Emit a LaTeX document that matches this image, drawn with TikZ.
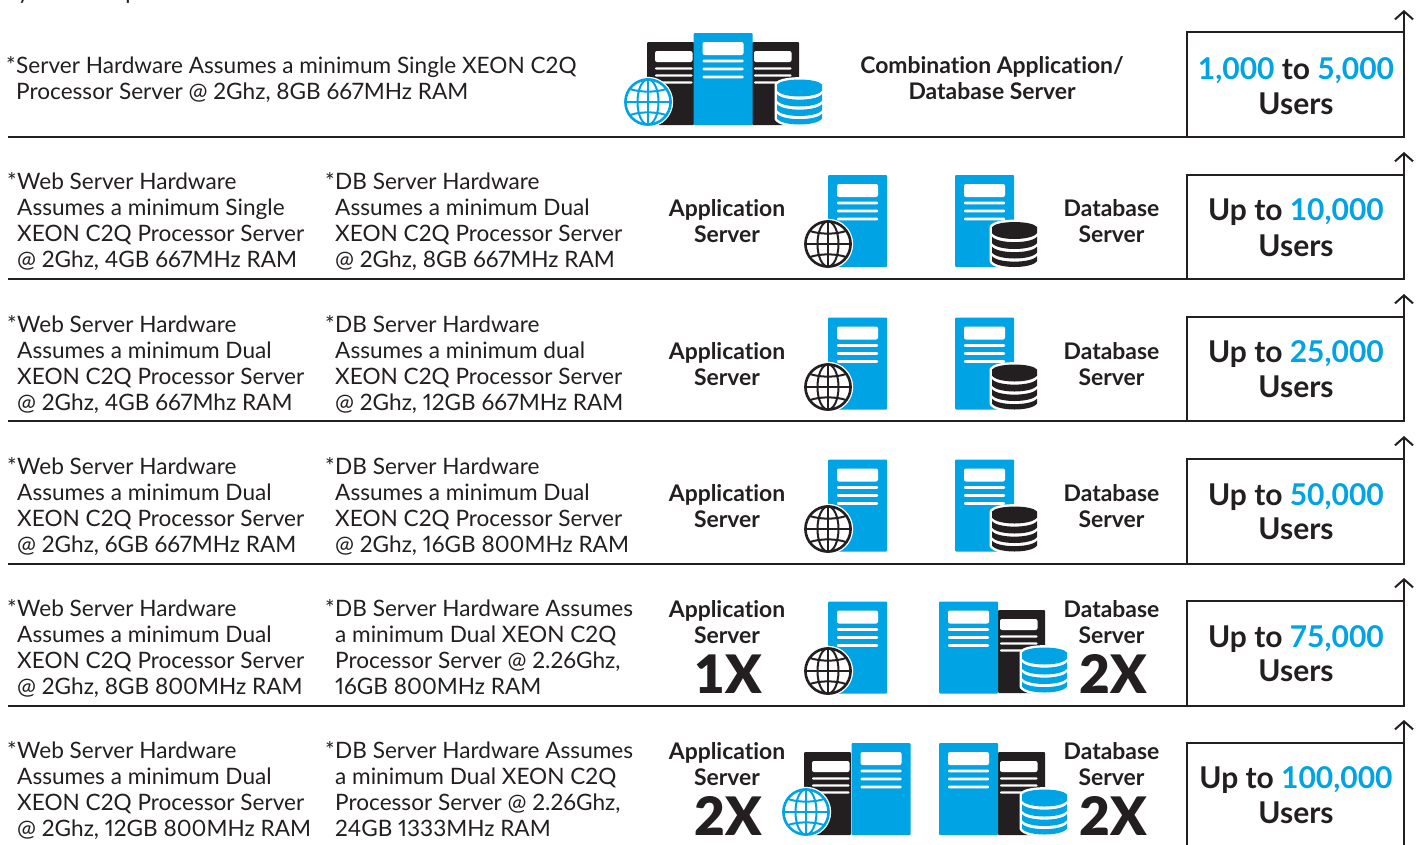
\documentclass[tikz,border=0pt]{standalone}
\usepackage{fontspec}
\setmainfont{Lato}[Ligatures=NoCommon,Numbers=Proportional]
\newfontface\latoheavy{Lato Black}
\newfontface\usersfont{Lato Bold}[Ligatures=NoCommon]
\definecolor{ibm}{HTML}{00A4E4}
\definecolor{ink}{HTML}{231F20}
\usetikzlibrary{arrows.meta}
\tikzset{
  x=1pt,y=-1pt,
  body/.style={anchor=north west,inner sep=0pt,align=left,text=ink,font=\fontsize{22.6}{26}\selectfont},
  role/.style={anchor=north,inner sep=0pt,align=center,text=ink,font=\bfseries\fontsize{22.9}{26}\selectfont},
  mult/.style={anchor=base,inner sep=0pt,text=ink,font=\latoheavy\fontsize{53}{53}\selectfont},
  rule/.style={draw=ink,line width=2pt},
  usersbox/.style={draw=ink,line width=2pt,rectangle,inner sep=0pt,outer sep=0pt,minimum width=217pt,align=center,text=ink},
  userstext/.style={anchor=base,inner sep=0pt,text=ink,font=\usersfont\fontsize{30}{35}\selectfont},
  up/.style={draw=ink,line width=2pt,-{Straight Barb[length=8pt,width=18pt,line width=2pt]}},
}
\newcommand{\towerbody}[2]{% x y
  \begin{scope}[shift={(#1,#2)}]
    \fill[ibm,rounded corners=1pt] (0,0) rectangle (59,92);
    \fill[white,rounded corners=2pt] (9,9) rectangle (50,22);
    \foreach \yy in {28,36,44} \fill[white,rounded corners=1pt] (9,\yy-1.3) rectangle (50,\yy+1.3);
  \end{scope}}
\newcommand{\blackserver}[3]{% x y(top) window x-offset
  \begin{scope}[shift={(#1,#2)}]
    \fill[ink,rounded corners=1pt] (0,0) rectangle (47,83);
    \fill[white,rounded corners=2pt] (#3,9) rectangle (#3+37.5,20);
    \foreach \yy in {26.5,33.5,40.5} \fill[white,rounded corners=1pt] (#3,\yy-1.2) rectangle (#3+37.5,\yy+1.2);
  \end{scope}}
\newcommand{\globeicon}[3]{% cx cy colour
  \begin{scope}[shift={(#1,#2)}]
    \fill[white] (0,0) circle (25.2);
    \draw[#3,line width=2.6pt] (0,0) circle (22.6);
    \draw[#3,line width=2pt] (0,0) ellipse (10.5 and 22.6);
    \draw[#3,line width=2pt] (0,-22.6) -- (0,22.6);
    \draw[#3,line width=2pt] (-22.6,0) -- (22.6,0);
    \draw[#3,line width=2pt] (-18,-13) .. controls (-8,-9.5) and (8,-9.5) .. (18,-13);
    \draw[#3,line width=2pt] (-18,13) .. controls (-8,9.5) and (8,9.5) .. (18,13);
  \end{scope}}
\newcommand{\dbicon}[3]{% left top colour
  \begin{scope}[shift={(#1,#2)}]
    \filldraw[white,line width=5pt,line join=round] (0,5) .. controls (5,-1.5) and (40,-1.5) .. (45,5) -- (45,39) .. controls (40,47) and (5,47) .. (0,39) -- cycle;
    \fill[#3] (0,5) .. controls (5,-1.6) and (40,-1.6) .. (45,5) -- (45,11) .. controls (40,19) and (5,19) .. (0,11) -- cycle;
    \fill[#3] (0,14.5) .. controls (5,22) and (40,22) .. (45,14.5) -- (45,21) .. controls (40,29) and (5,29) .. (0,21) -- cycle;
    \fill[#3] (0,24.5) .. controls (5,32) and (40,32) .. (45,24.5) -- (45,30.5) .. controls (40,38.5) and (5,38.5) .. (0,30.5) -- cycle;
    \fill[#3] (0,34) .. controls (5,41.5) and (40,41.5) .. (45,34) -- (45,39) .. controls (40,47) and (5,47) .. (0,39) -- cycle;
  \end{scope}}
\newcommand{\usersrow}[7]{% name top bottom arrowtip line1 line2 label
  \node[usersbox,anchor=north west,minimum height=#3pt-#2pt] (#1) at (1187,#2) {};
  \coordinate (#1tip) at (1404,#4);
  \coordinate (#1start) at (8,#3);
  \draw[up] (#1.north east) -- (#1tip);
  \draw[rule] (#1start) -- (#1.south west);
  \node[userstext] (#1a) at (1296,#5) {#7};
  \node[userstext] (#1b) at (1296,#6) {Users};
}
\newcommand{\bl}[1]{\textcolor{ibm}{#1}}
\newcommand{\starry}{\llap{*\hspace{0.5pt}}}
\begin{document}
\begin{tikzpicture}
\useasboundingbox (0,0) rectangle (1421,844);
\clip (0,0) rectangle (1421,844);
\fill[white] (0,0) rectangle (1421,844);
\node[body] (intro) at (8,-15.5) {system components};

% row 1
\usersrow{ua}{32}{137}{10}{79}{114}{\bl{1,000} to \bl{5,000}}
\node[body] (t1) at (16,56) {\starry Server Hardware Assumes a minimum Single XEON C2Q\\Processor Server @ 2Ghz, 8GB 667MHz RAM};
\blackserver{647}{42}{8}
\blackserver{752}{42}{2}
\towerbody{693.5}{33}
\globeicon{648}{102}{ibm}
\dbicon{777}{79.5}{ibm}
\node[role] (c1) at (992,56.5) {Combination Application/\\Database Server};

% row 2
\usersrow{ub}{175}{279}{152}{220}{256}{Up to \bl{10,000}}
\node[body] (w2) at (17,172) {\starry Web Server Hardware\\Assumes a minimum Single\\XEON C2Q Processor Server\\@ 2Ghz, 4GB 667MHz RAM};
\node[body] (d2) at (335,172) {\starry DB Server Hardware\\Assumes a minimum Dual\\XEON C2Q Processor Server\\@ 2Ghz, 8GB 667MHz RAM};
\node[role] (a2) at (727,199.5) {Application\\Server};
\node[role] (b2) at (1111.5,199.5) {Database\\Server};
\towerbody{828}{175}
\globeicon{828}{244}{ink}
\towerbody{955}{175}
\dbicon{992}{222}{ink}

% row 3
\usersrow{uc}{317}{421}{294}{362}{397}{Up to \bl{25,000}}
\node[body] (w3) at (17,315) {\starry Web Server Hardware\\Assumes a minimum Dual\\XEON C2Q Processor Server\\@ 2Ghz, 4GB 667Mhz RAM};
\node[body] (d3) at (335,315) {\starry DB Server Hardware\\Assumes a minimum dual\\XEON C2Q Processor Server\\@ 2Ghz, 12GB 667MHz RAM};
\node[role] (a3) at (727,342.5) {Application\\Server};
\node[role] (b3) at (1111.5,342.5) {Database\\Server};
\towerbody{828}{317.5}
\globeicon{828}{387}{ink}
\towerbody{955}{317.5}
\dbicon{992}{364.5}{ink}

% row 4
\usersrow{ud}{459}{564}{436}{505}{539}{Up to \bl{50,000}}
\node[body] (w4) at (17,457) {\starry Web Server Hardware\\Assumes a minimum Dual\\XEON C2Q Processor Server\\@ 2Ghz, 6GB 667MHz RAM};
\node[body] (d4) at (335,457) {\starry DB Server Hardware\\Assumes a minimum Dual\\XEON C2Q Processor Server\\@ 2Ghz, 16GB 800MHz RAM};
\node[role] (a4) at (727,484.5) {Application\\Server};
\node[role] (b4) at (1111.5,484.5) {Database\\Server};
\towerbody{828}{459.5}
\globeicon{828}{529}{ink}
\towerbody{955}{459.5}
\dbicon{992}{506.5}{ink}

% row 5
\usersrow{ue}{601}{706}{578}{647}{681}{Up to \bl{75,000}}
\node[body] (w5) at (17,599) {\starry Web Server Hardware\\Assumes a minimum Dual\\XEON C2Q Processor Server\\@ 2Ghz, 8GB 800MHz RAM};
\node[body] (d5) at (335,599) {\starry DB Server Hardware Assumes\\a minimum Dual XEON C2Q\\Processor Server @ 2.26Ghz,\\16GB 800MHz RAM};
\node[role] (a5) at (727,600.5) {Application\\Server};
\node[role] (b5) at (1111.5,600.5) {Database\\Server};
\node[mult] (m5a) at (728,693) {1X};
\node[mult] (m5b) at (1113,693) {2X};
\towerbody{828}{601.5}
\globeicon{828}{671}{ink}
\blackserver{998}{610}{2}
\towerbody{939}{601.5}
\dbicon{1022}{647.5}{ibm}

% row 6
\usersrow{uf}{743}{900}{720}{788}{823}{Up to \bl{100,000}}
\node[body] (w6) at (17,741) {\starry Web Server Hardware\\Assumes a minimum Dual\\XEON C2Q Processor Server\\@ 2Ghz, 12GB 800MHz RAM};
\node[body] (d6) at (335,741) {\starry DB Server Hardware Assumes\\a minimum Dual XEON C2Q\\Processor Server @ 2.26Ghz,\\24GB 1333MHz RAM};
\node[role] (a6) at (727,742.5) {Application\\Server};
\node[role] (b6) at (1111.5,742.5) {Database\\Server};
\node[mult] (m6a) at (728,835) {2X};
\node[mult] (m6b) at (1113,835) {2X};
\blackserver{804}{752}{8}
\towerbody{851.5}{743}
\globeicon{806}{812}{ibm}
\blackserver{998}{752}{2}
\towerbody{939}{743}
\dbicon{1022}{789.5}{ibm}
\end{tikzpicture}
\end{document}
